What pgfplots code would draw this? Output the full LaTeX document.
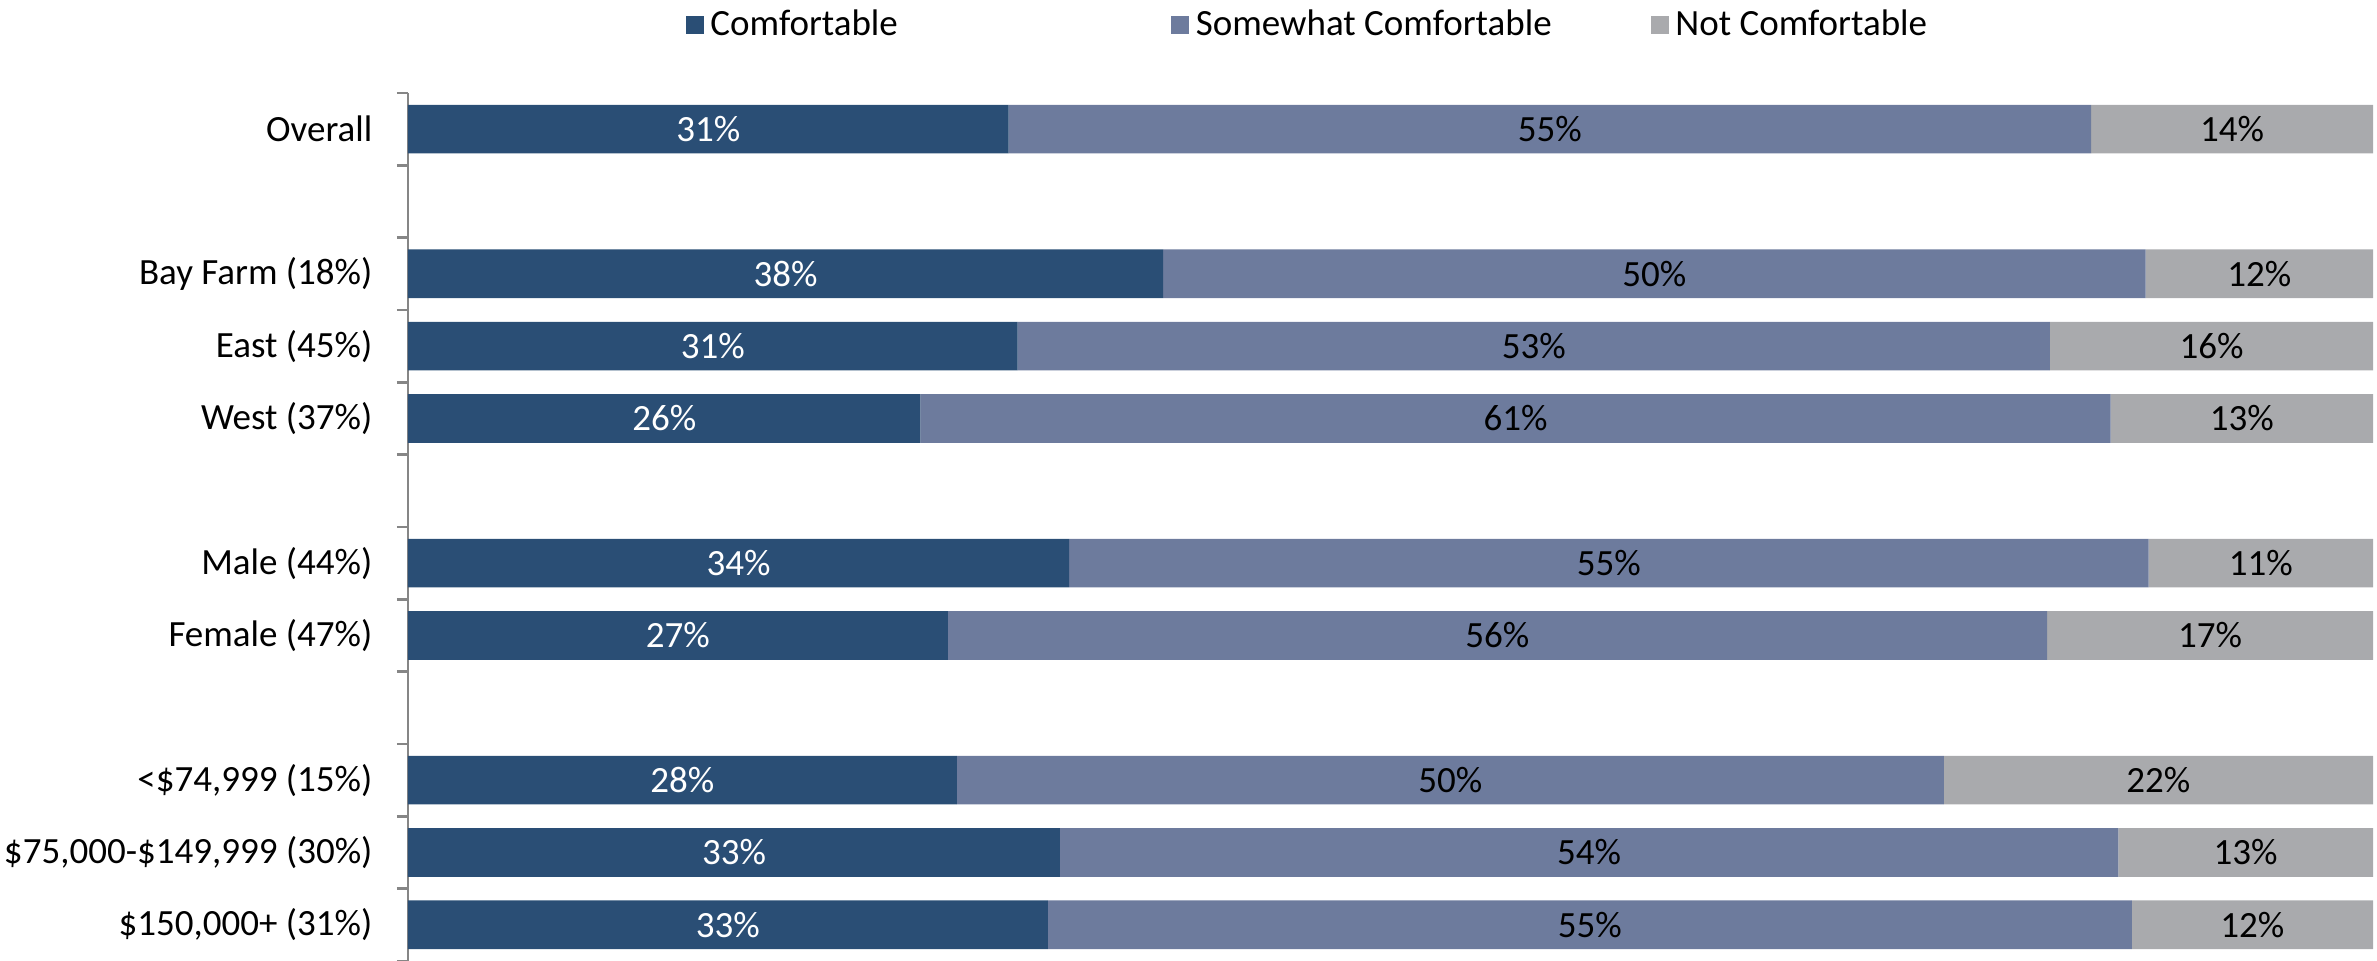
\documentclass[border=0pt]{standalone}
\usepackage{fontspec}
\setmainfont{Carlito}
\usepackage{pgfplots}
\pgfplotsset{compat=1.18}
\definecolor{cComf}{HTML}{2A4E75}
\definecolor{cSome}{HTML}{6D7B9D}
\definecolor{cNot}{HTML}{A9AAAD}
\definecolor{axgray}{HTML}{868686}
\begin{document}
\begin{tikzpicture}[font=\fontsize{11.1}{13.3}\selectfont]
\useasboundingbox (0,0) rectangle (713.1pt,288.3pt);
\begin{axis}[
  at={(122.4pt,0pt)}, anchor=south west,
  scale only axis, width=589.5pt, height=260.4pt,
  xbar stacked, bar width=14.6pt,
  xmin=0, xmax=100,
  ymin=-0.5, ymax=11.5, y dir=reverse,
  hide x axis,
  axis y line*=left,
  y axis line style={axgray, line width=0.8pt},
  ytick={0,...,11},
  yticklabels={Overall,,Bay Farm (18\%),East (45\%),West (37\%),,Male (44\%),Female (47\%),,{<\$74,999 (15\%)},{\$75,000-\$149,999 (30\%)},{\$150,000+ (31\%)}},
  major tick length=0pt,
  minor ytick={-0.5,0.5,...,11.5},
  minor tick length=3.3pt,
  tick align=outside,
  minor tick style={axgray, line width=0.8pt},
  yticklabel style={inner sep=0pt, xshift=-10.5pt},
  /pgf/number format/assume math mode=true,
  visualization depends on=rawx\as\rawx,
  nodes near coords={\pgfmathprintnumber[fixed,precision=0]{\rawx}\%},
  every node near coord/.append style={anchor=center},
  legend columns=3,
  legend style={draw=none, at={(0.141,1.104)}, anchor=north west, inner sep=0pt,
    /tikz/column 2/.style={column sep=80pt},
    /tikz/column 4/.style={column sep=27.7pt}},
  legend image code/.code={\fill[#1] (0pt,-2.7pt) rectangle (5.4pt,2.7pt);},
]
% shares (labels show them rounded)
\addplot[fill=cComf, draw=none, nodes near coords style={white}] coordinates {
  (30.56,0) (38.43,2) (31.02,3) (26.08,4) (33.64,6) (27.47,7) (27.93,9) (33.18,10) (32.56,11)};
\addplot[fill=cSome, draw=none, nodes near coords style={black}] coordinates {
  (55.09,0) (50.00,2) (52.54,3) (60.57,4) (54.94,6) (55.94,7) (50.23,9) (53.86,10) (55.17,11)};
\addplot[fill=cNot, draw=none, nodes near coords style={black}] coordinates {
  (14.35,0) (11.57,2) (16.44,3) (13.35,4) (11.42,6) (16.59,7) (21.84,9) (12.96,10) (12.27,11)};
\legend{Comfortable, Somewhat Comfortable, Not Comfortable}
\end{axis}
\end{tikzpicture}
\end{document}
